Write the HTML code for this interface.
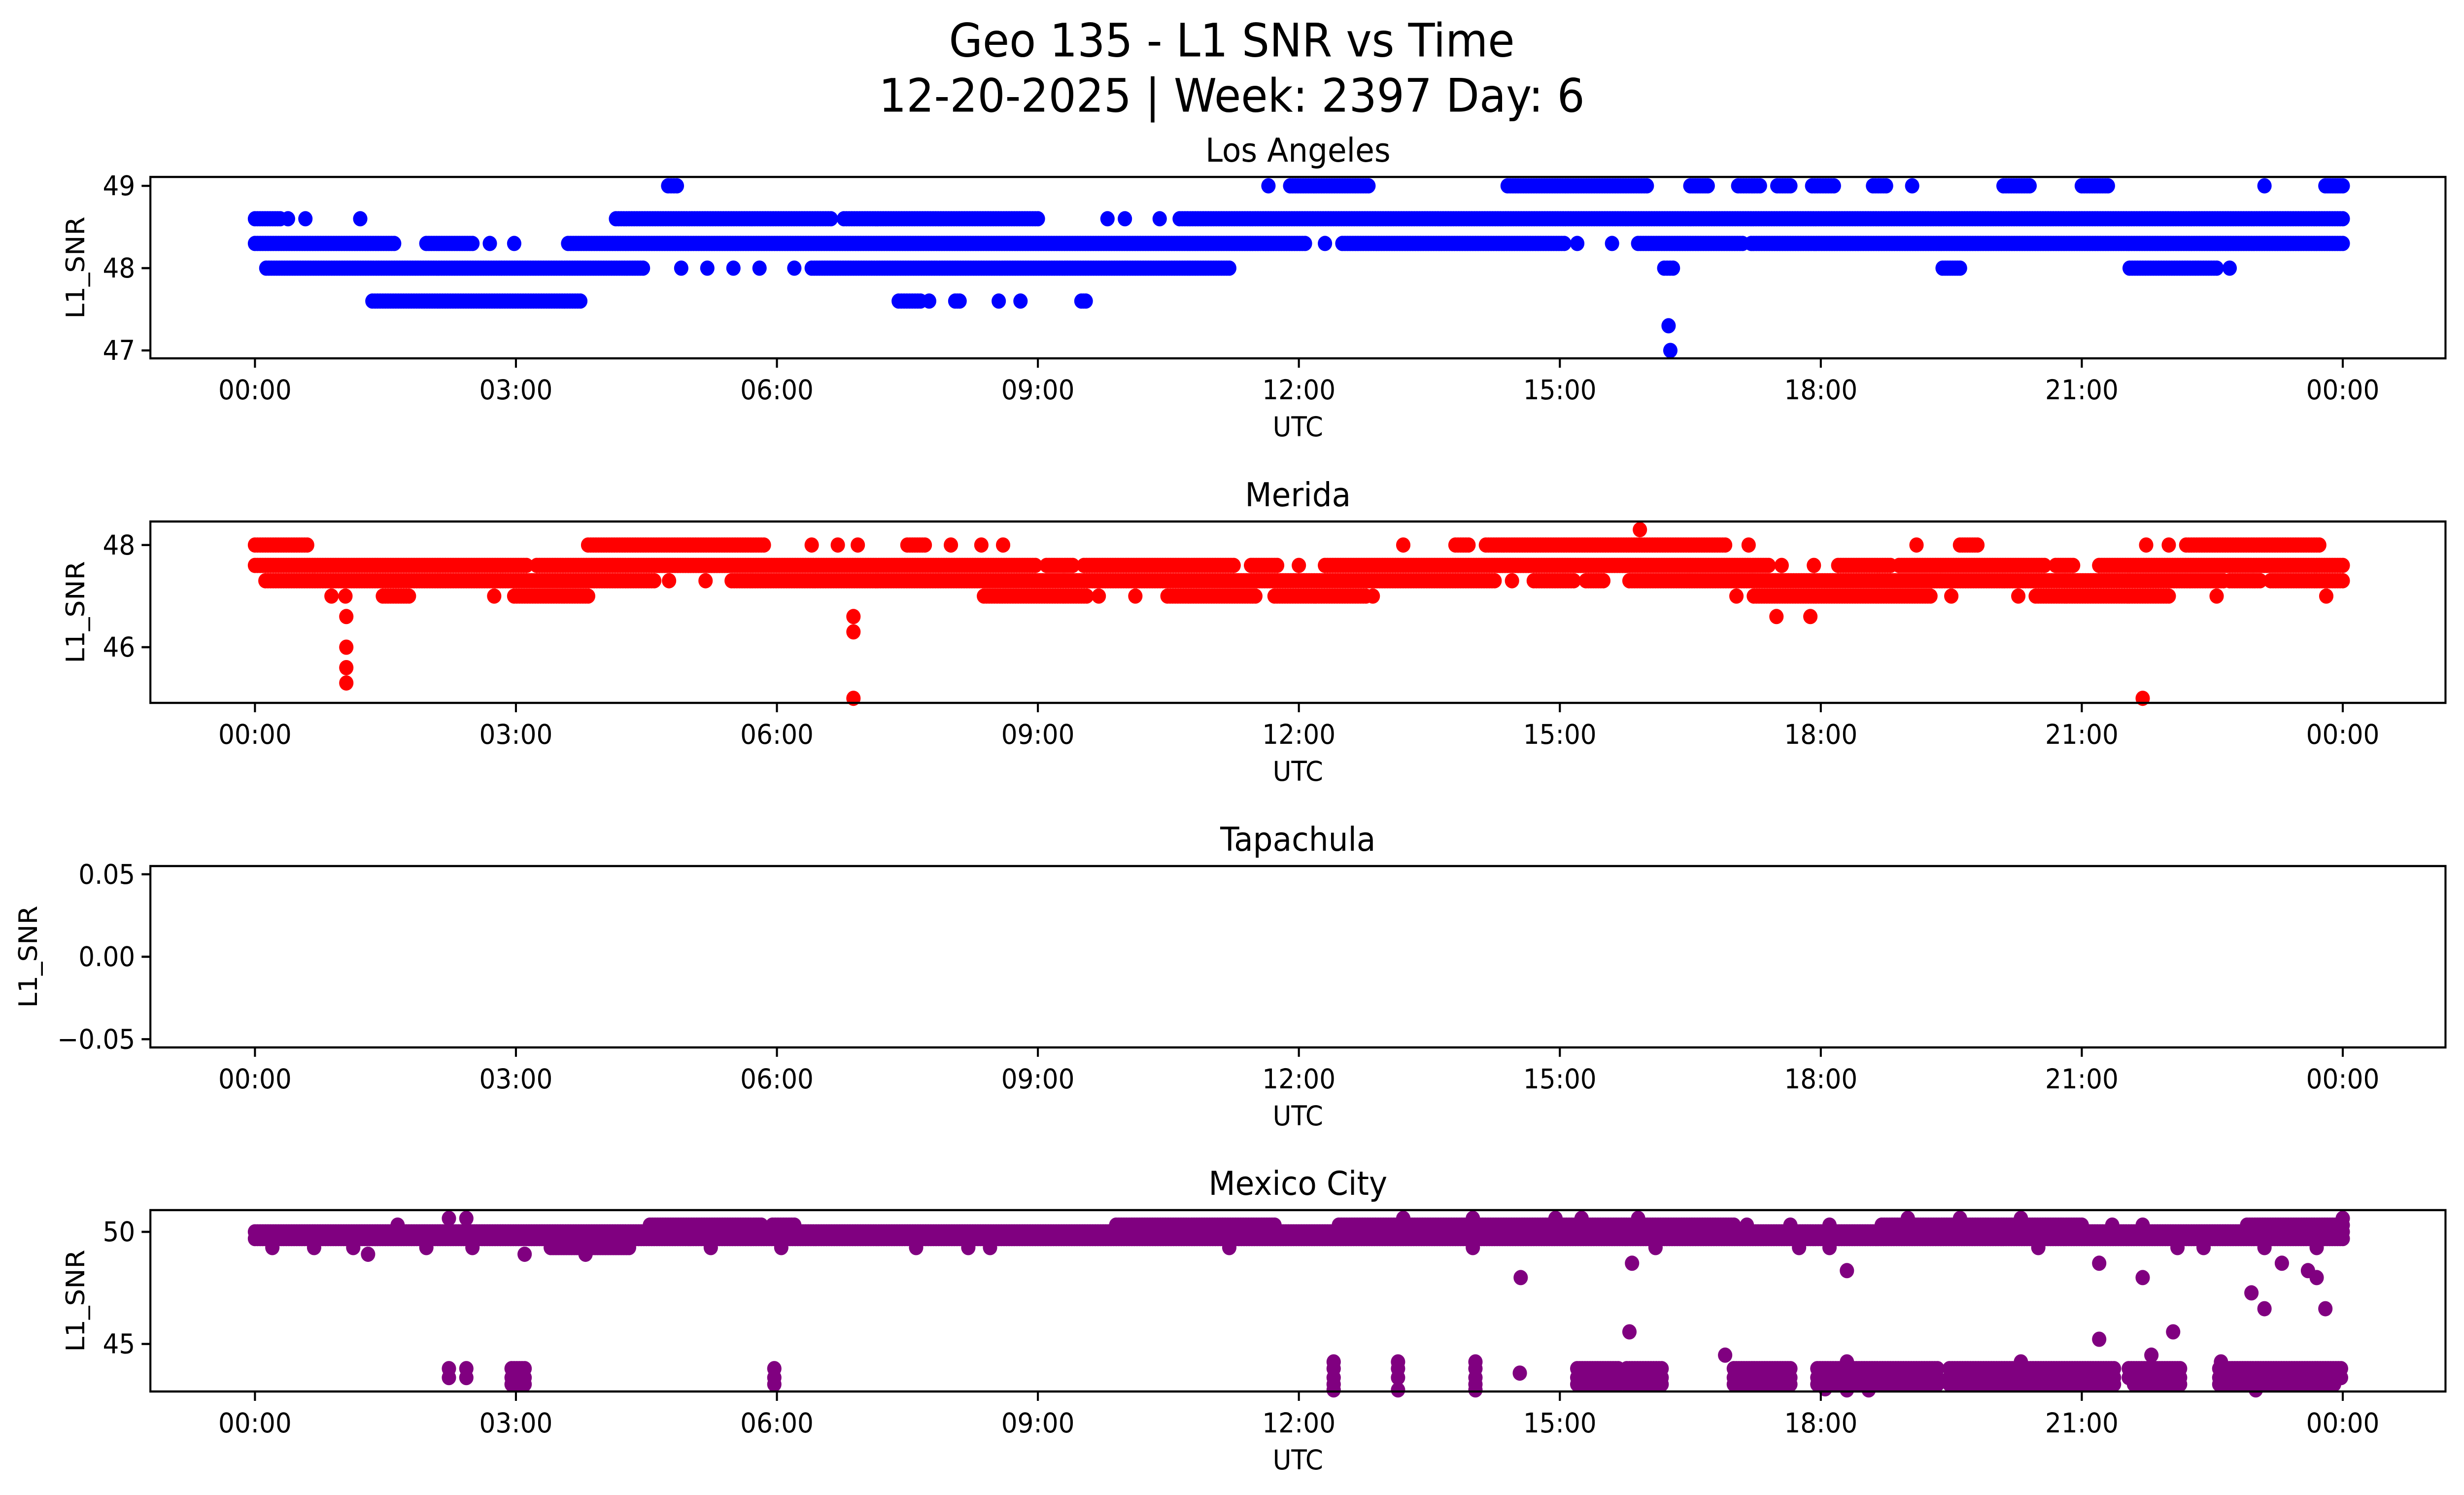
<!DOCTYPE html>
<html><head><meta charset="utf-8"><style>
html,body{margin:0;padding:0;background:#fff;width:100%;height:100%;overflow:hidden;}
svg{display:block;width:100vw;height:100vh;font-family:"DejaVu Sans","Liberation Sans",sans-serif;}
</style></head><body>
<svg id="fig" viewBox="0 0 5325 3033" preserveAspectRatio="none">
<rect width="5325" height="3033" fill="#fff"/>
<text x="2662" y="82" font-size="94" text-anchor="middle" dominant-baseline="central">Geo 135 - L1 SNR vs Time</text>
<text x="2662" y="194" font-size="94" text-anchor="middle" dominant-baseline="central">12-20-2025 | Week: 2397 Day: 6</text>
</svg>
<script>
// ---- data (hours UTC; runs of samples at a given SNR level) ----
const xTickLabels = ["00:00","03:00","06:00","09:00","12:00","15:00","18:00","21:00","00:00"];
const xTickHours = [0,3,6,9,12,15,18,21,24];

const laStart = [0,0.38,0.58,1.21,4.15,6.77,9.8,10.0,10.4,10.63, 0,1.97,2.7,2.98,3.6,12.3,12.5,15.2,15.6,15.9,17.2, 0.13,4.9,5.2,5.5,5.8,6.2,6.4,19.4,21.55,22.7,16.2, 1.35,7.4,7.75,8.05,8.55,8.8,9.5, 4.75,11.65,11.9,14.4,16.5,17.05,17.5,17.9,18.6,19.05,20.1,21.0,23.1,23.8, 16.25,16.27];
const laEnd   = [0.29,0.38,0.58,1.21,6.62,9.0,9.8,10.0,10.4,24, 1.6,2.5,2.7,2.98,12.07,12.3,15.05,15.2,15.6,17.1,24, 4.46,4.9,5.2,5.5,5.8,6.2,11.2,19.6,22.55,22.7,16.3, 3.74,7.65,7.75,8.1,8.55,8.8,9.55, 4.85,11.65,12.8,16.0,16.7,17.3,17.65,18.15,18.75,19.05,20.4,21.3,23.1,24.0, 16.25,16.27];
const laLevel = [48.6,48.6,48.6,48.6,48.6,48.6,48.6,48.6,48.6,48.6, 48.3,48.3,48.3,48.3,48.3,48.3,48.3,48.3,48.3,48.3,48.3, 48,48,48,48,48,48,48,48,48,48,48, 47.6,47.6,47.6,47.6,47.6,47.6,47.6, 49,49,49,49,49,49,49,49,49,49,49,49,49,49, 47.3,47.0];

const meStart = [0,3.83,6.4,6.7,6.93,7.5,8.0,8.35,8.6,13.2,13.8,14.15,17.17,19.1,19.6,21.74,22.0,22.2, 15.92, 0,3.24,9.1,9.53,11.45,12.0,12.3,17.55,17.92,18.2,18.9,20.7,21.2, 0.12,4.76,5.18,5.48,14.45,14.7,15.3,15.8,22.7,23.17, 0.88,1.04,1.47,2.75,2.98,8.38,9.7,10.12,10.49,11.72,12.85,17.03,17.23,19.5,20.27,20.47,22.55,23.81, 1.05,6.88,17.49,17.88, 6.88,1.05,1.05,1.05,6.88,21.7];
const meEnd   = [0.6,5.85,6.4,6.7,6.93,7.7,8.0,8.35,8.6,13.2,13.95,16.9,17.17,19.1,19.8,21.74,22.0,23.73, 15.92, 3.12,8.97,9.4,11.25,11.75,12.0,17.4,17.55,17.92,18.8,20.57,20.9,24, 4.59,4.76,5.18,14.25,14.45,15.16,15.5,22.63,23.05,24, 0.88,1.04,1.77,2.75,3.83,9.56,9.7,10.12,11.5,12.77,12.85,17.03,19.26,19.5,20.27,22.0,22.55,23.81, 1.05,6.88,17.49,17.88, 6.88,1.05,1.05,1.05,6.88,21.7];
const meLevel = [48,48,48,48,48,48,48,48,48,48,48,48,48,48,48,48,48,48, 48.3, 47.6,47.6,47.6,47.6,47.6,47.6,47.6,47.6,47.6,47.6,47.6,47.6,47.6, 47.3,47.3,47.3,47.3,47.3,47.3,47.3,47.3,47.3,47.3, 47,47,47,47,47,47,47,47,47,47,47,47,47,47,47,47,47,47, 46.6,46.6,46.6,46.6, 46.3,46.0,45.6,45.3,45.0,45.0];

const mxStart = [0,0, 1.64,4.54,5.95,9.9,12.46,17.15,17.65,18.1,18.7,21.35,21.7,22.9, 2.23,2.43,13.2,14.0,14.95,15.25,15.9,19.0,19.6,20.3,24.0, 0.2,0.68,1.13,1.97,2.5,3.4,5.24,6.05,7.6,8.2,8.45,11.2,14.0,16.1,17.75,18.1,20.5,22.1,22.4,23.1,23.7, 1.3,3.1,3.8, 15.83,18.3,21.2,23.3,23.6, 14.55,21.7,23.7, 22.95, 23.8, 23.1, 15.8,22.05, 21.2, 12.4,13.14,14.03,16.9,18.3,20.3,21.8,22.6, 2.23,2.43,2.95,5.97,12.4,13.14,14.03,15.2,15.77,17.0,17.96,19.48,21.54,22.58, 2.23,2.43,2.95,5.97,12.4,13.14,14.03,14.54,15.2,15.77,17.0,17.96,19.48,21.54,22.58, 2.95,5.97,12.4,14.03,15.2,15.77,17.0,17.96,19.48,21.6,22.58, 12.4,13.14,14.03,18.05,18.3,18.55,23.0];
const mxEnd   = [24,24, 1.64,5.82,6.2,11.72,17.0,17.15,17.65,18.1,21.0,21.35,21.7,24, 2.23,2.43,13.2,14.0,14.95,15.25,15.9,19.0,19.6,20.3,24.0, 0.2,0.68,1.13,1.97,2.5,4.3,5.24,6.05,7.6,8.2,8.45,11.2,14.0,16.1,17.75,18.1,20.5,22.1,22.4,23.1,23.7, 1.3,3.1,3.8, 15.83,18.3,21.2,23.3,23.6, 14.55,21.7,23.7, 22.95, 23.8, 23.1, 15.8,22.05, 21.2, 12.4,13.14,14.03,16.9,18.3,20.3,21.8,22.6, 2.23,2.43,3.1,5.97,12.4,13.14,14.03,15.67,16.17,17.65,19.34,21.37,22.13,23.98, 2.23,2.43,3.1,5.97,12.4,13.14,14.03,14.54,15.67,16.17,17.65,19.34,21.37,22.13,23.98, 3.1,5.97,12.4,14.03,15.67,16.17,17.65,19.34,21.37,22.13,23.9, 12.4,13.14,14.03,18.05,18.3,18.55,23.0];
const mxLevel = [50.0,49.7, 50.3,50.3,50.3,50.3,50.3,50.3,50.3,50.3,50.3,50.3,50.3,50.3, 50.6,50.6,50.6,50.6,50.6,50.6,50.6,50.6,50.6,50.6,50.6, 49.3,49.3,49.3,49.3,49.3,49.3,49.3,49.3,49.3,49.3,49.3,49.3,49.3,49.3,49.3,49.3,49.3,49.3,49.3,49.3,49.3, 49.0,49.0,49.0, 48.6,48.27,48.6,48.6,48.27, 47.96,47.96,47.96, 47.28, 46.57, 46.57, 45.54,45.54, 45.21, 44.2,44.2,44.2,44.5,44.2,44.2,44.5,44.2, 43.9,43.9,43.9,43.9,43.9,43.9,43.9,43.9,43.9,43.9,43.9,43.9,43.9,43.9, 43.5,43.5,43.5,43.5,43.5,43.5,43.5,43.7,43.5,43.5,43.5,43.5,43.5,43.5,43.5, 43.2,43.2,43.2,43.2,43.2,43.2,43.2,43.2,43.2,43.2,43.2, 42.95,42.95,42.95,43.0,42.95,42.95,42.95];

const panelTitles = ["Los Angeles","Merida","Tapachula","Mexico City"];
const yTicks = [[47,48,49],[46,48],[-0.05,0,0.05],[45,50]];
const yTickText = [["47","48","49"],["46","48"],["\u22120.05","0.00","0.05"],["45","50"]];
const yDomains = [[46.904,49.108],[44.91,48.46],[-0.055,0.055],[42.88,50.97]];

const NS="http://www.w3.org/2000/svg";
const svg=document.getElementById('fig');
const L=325,R=5285,H=368,tops=[359,1058,1757,2455];
const xs=h=>L+226+h*188;
function el(t,a,p){const e=document.createElementNS(NS,t);for(const k in a)e.setAttribute(k,a[k]);(p||svg).appendChild(e);return e;}

const series=[[laStart,laEnd,laLevel,"#0000ff"],[meStart,meEnd,meLevel,"#ff0000"],null,[mxStart,mxEnd,mxLevel,"#800080"]];

for(let p=0;p<4;p++){
  const T=tops[p],B=T+H,[d0,d1]=yDomains[p];
  const ys=v=>B-(v-d0)/(d1-d0)*H;
  const g=el('g',{});
  
  
  const t=el('text',{x:(L+R)/2,y:T-53,'font-size':67,'text-anchor':'middle','dominant-baseline':'central'},g);
  t.textContent=panelTitles[p];
  
  
  const s=series[p];
  if(s){
    const pg=el('g',{fill:s[3]},g);
    
    
    for(let i=0;i<s[0].length;i++){
      const a=s[0][i],b=s[1][i],v=s[2][i];
      const n=Math.max(0,Math.round((b-a)/0.03));
      for(let k=0;k<=n;k++){
        const h=n?a+(b-a)*k/n:a;
        const c=el('circle',{cx:xs(h).toFixed(1),cy:ys(v).toFixed(1),r:15.5},pg);
        
        
      }
    }
  }
  const fr=el('rect',{x:L,y:T,width:R-L,height:H,fill:'none',stroke:'#000','stroke-width':4.4},g);
  
  
  for(let i=0;i<xTickHours.length;i++){
    const x=xs(xTickHours[i]);
    el('line',{x1:x,x2:x,y1:B,y2:B+19,stroke:'#000','stroke-width':4.4},g);
    const tl=el('text',{x:x,y:B+64,'font-size':55,'text-anchor':'middle','dominant-baseline':'central'},g);
    tl.textContent=xTickLabels[i];
    
    
  }
  const xl=el('text',{x:(L+R)/2,y:B+139,'font-size':55,'text-anchor':'middle','dominant-baseline':'central'},g);
  xl.textContent='UTC';
  
  
  for(let i=0;i<yTicks[p].length;i++){
    const y=ys(yTicks[p][i]);
    el('line',{x1:L-19,x2:L,y1:y,y2:y,stroke:'#000','stroke-width':4.4},g);
    const tl=el('text',{x:L-33,y:y,'font-size':55,'text-anchor':'end','dominant-baseline':'central'},g);
    tl.textContent=yTickText[p][i];
    
    
  }
  const yx=p===2?61:163,yc=T+H/2;
  const yl=el('text',{x:yx,y:yc,'font-size':55,'text-anchor':'middle','dominant-baseline':'central',transform:`rotate(-90 ${yx} ${yc})`},g);
  yl.textContent='L1_SNR';
  
  
}
</script>
</body></html>
